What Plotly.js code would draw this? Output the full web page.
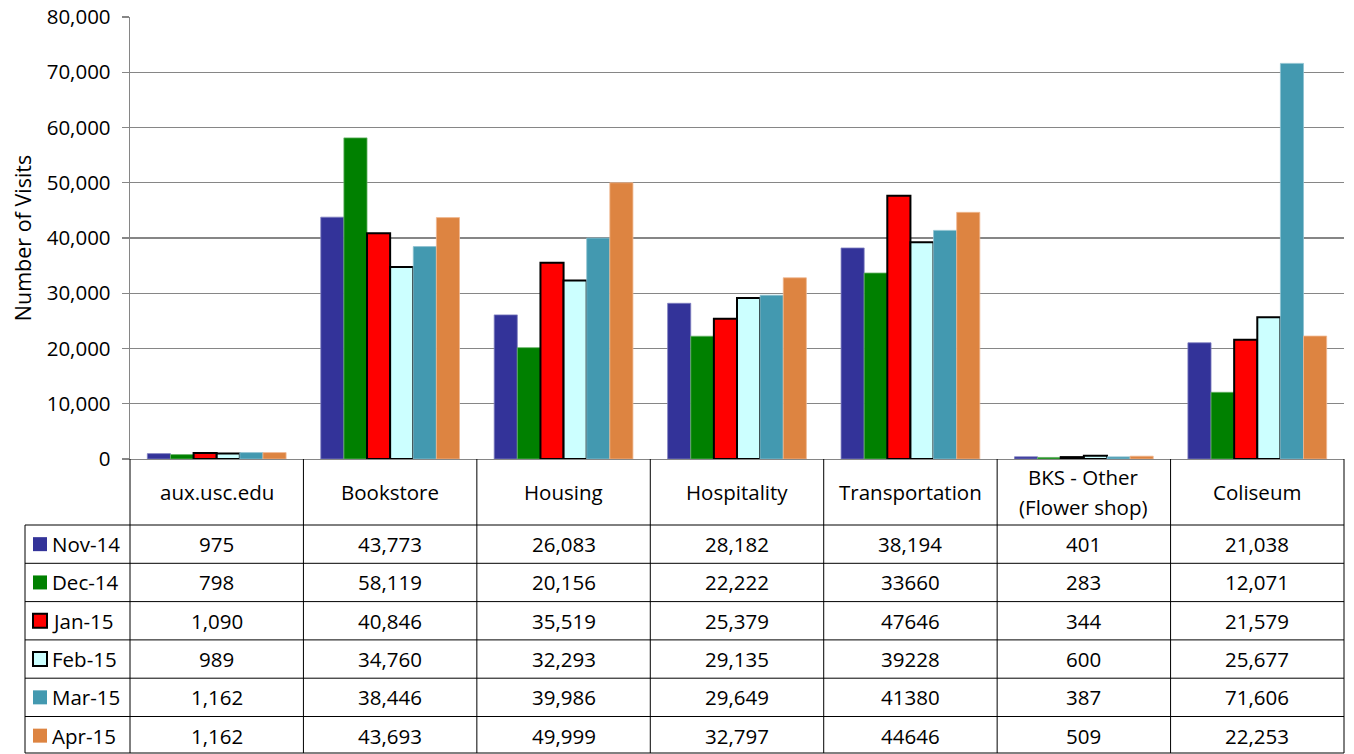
<!DOCTYPE html>
<html>
<head>
<meta charset="utf-8">
<script src="https://cdn.plot.ly/plotly-3.0.1.min.js"></script>
<style>html,body{margin:0;padding:0;background:#fff;}#chart{width:1354px;height:754px;}</style>
</head>
<body>
<div id="chart"></div>
<script>
// ---- data ----
var categories = ["aux.usc.edu", "Bookstore", "Housing", "Hospitality", "Transportation", "BKS - Other<br>(Flower shop)", "Coliseum"];
var seriesNames = ["Nov-14", "Dec-14", "Jan-15", "Feb-15", "Mar-15", "Apr-15"];
var nov14 = [975, 43773, 26083, 28182, 38194, 401, 21038];
var dec14 = [798, 58119, 20156, 22222, 33660, 283, 12071];
var jan15 = [1090, 40846, 35519, 25379, 47646, 344, 21579];
var feb15 = [989, 34760, 32293, 29135, 39228, 600, 25677];
var mar15 = [1162, 38446, 39986, 29649, 41380, 387, 71606];
var apr15 = [1162, 43693, 49999, 32797, 44646, 509, 22253];
// table cells printed without thousands separator in the source: [series index, category index]
var plainCells = [[1,4],[2,4],[3,4],[4,4],[5,4]];
var yTickVals = [0, 10000, 20000, 30000, 40000, 50000, 60000, 70000, 80000];

// ---- styles ----
var allValues = [nov14, dec14, jan15, feb15, mar15, apr15];
var fills = ["#333399", "#008000", "#FF0000", "#CCFFFF", "#4399B0", "#DD8441"];
var lineColors = ["#8080c0", "#66b366", "#000000", "#000000", "#8ec2d0", "#f0b890"];
var lineWidths = [0.8, 0.8, 2, 2, 0.8, 0.8];
var FONT = "'Open Sans', Lato, sans-serif";
var FS = 20.5;

var W = 1354, H = 754;
var L = 130, R = 1344, T = 17, B = 459;
function px(x){ return (x - L) / (R - L); }
function py(y){ return (B - y) / (B - T); }

var traces = allValues.map(function(vals, s){
  return {
    type: "bar",
    name: seriesNames[s],
    x: categories,
    y: vals,
    marker: {color: fills[s], line: {color: lineColors[s], width: lineWidths[s]}},
    hovertemplate: "%{x}<br>" + seriesNames[s] + ": %{y:,}<extra></extra>"
  };
});

function isPlain(s, c){
  return plainCells.some(function(p){ return p[0] === s && p[1] === c; });
}
function fmt(v, s, c){
  return isPlain(s, c) ? String(v) : v.toLocaleString("en-US");
}

var shapes = [];
var annotations = [];
var lineStyle = {color: "#000000", width: 1};
var nCat = categories.length;
var headerBottom = 525, rowH = 38.3;
var tableBottom = 753;
var leftEdge = 25;

// vertical column lines
for (var k = 0; k <= nCat; k++) {
  shapes.push({type: "line", xref: "paper", yref: "paper",
    x0: k / nCat, x1: k / nCat, y0: py(B), y1: py(tableBottom), line: lineStyle});
}
shapes.push({type: "line", xref: "paper", yref: "paper",
  x0: px(leftEdge), x1: px(leftEdge), y0: py(headerBottom), y1: py(tableBottom), line: lineStyle});
// horizontal row lines
for (var r = 0; r <= seriesNames.length; r++) {
  var yy = Math.min(headerBottom + r * rowH, tableBottom);
  shapes.push({type: "line", xref: "paper", yref: "paper",
    x0: px(leftEdge), x1: 1, y0: py(yy), y1: py(yy), line: lineStyle});
}

// header labels (multi-line labels split so the line spacing matches)
categories.forEach(function(cat, c){
  var lines = cat.split("<br>");
  var mid = (B + headerBottom) / 2, gap = 30;
  lines.forEach(function(t, i){
    var ly = mid + (i - (lines.length - 1) / 2) * gap;
    annotations.push({xref: "paper", yref: "paper", x: (c + 0.5) / nCat, y: py(ly),
      text: t, showarrow: false, xanchor: "center", yanchor: "middle",
      font: {family: FONT, size: FS, color: "#000"}});
  });
});

// rows: legend key + values
seriesNames.forEach(function(name, s){
  var cy = headerBottom + rowH * (s + 0.5);
  var outlined = (s === 2 || s === 3);
  shapes.push({type: "rect", xref: "paper", yref: "paper",
    x0: px(33), x1: px(47), y0: py(cy - 7), y1: py(cy + 7),
    fillcolor: fills[s], line: {color: outlined ? "#000" : fills[s], width: outlined ? 2 : 0}});
  annotations.push({xref: "paper", yref: "paper", x: px(50), y: py(cy),
    text: name, showarrow: false, xanchor: "left", yanchor: "middle",
    font: {family: FONT, size: FS, color: "#000"}});
  allValues[s].forEach(function(v, c){
    annotations.push({xref: "paper", yref: "paper", x: (c + 0.5) / nCat, y: py(cy),
      text: fmt(v, s, c), showarrow: false, xanchor: "center", yanchor: "middle",
      font: {family: FONT, size: FS, color: "#000"}});
  });
});

var layout = {
  width: W, height: H,
  margin: {l: L, r: W - R, t: T, b: H - B, pad: 0},
  paper_bgcolor: "#fff", plot_bgcolor: "#fff",
  showlegend: false,
  barmode: "group", bargap: 0.2, bargroupgap: 0,
  font: {family: FONT, size: FS, color: "#000"},
  xaxis: {type: "category", range: [-0.5, nCat - 0.5], showticklabels: false, ticks: "",
    showgrid: false, zeroline: false, showline: true, linecolor: "#868686", linewidth: 1.3, fixedrange: true},
  yaxis: {range: [0, 80000], tickvals: yTickVals, tickformat: ",d", ticks: "outside", ticklen: 7,
    tickcolor: "#868686", tickwidth: 1.3, ticklabelstandoff: 7,
    showgrid: true, gridcolor: "#868686", gridwidth: 1.3, zeroline: false,
    showline: true, linecolor: "#868686", linewidth: 1.3,
    tickfont: {family: FONT, size: FS, color: "#000"},
    title: {text: "Number of Visits", font: {family: FONT, size: 21.5, color: "#000"}, standoff: 9},
    fixedrange: true},
  shapes: shapes,
  annotations: annotations
};

Plotly.newPlot("chart", traces, layout, {displayModeBar: false, staticPlot: true});
</script>
</body>
</html>
